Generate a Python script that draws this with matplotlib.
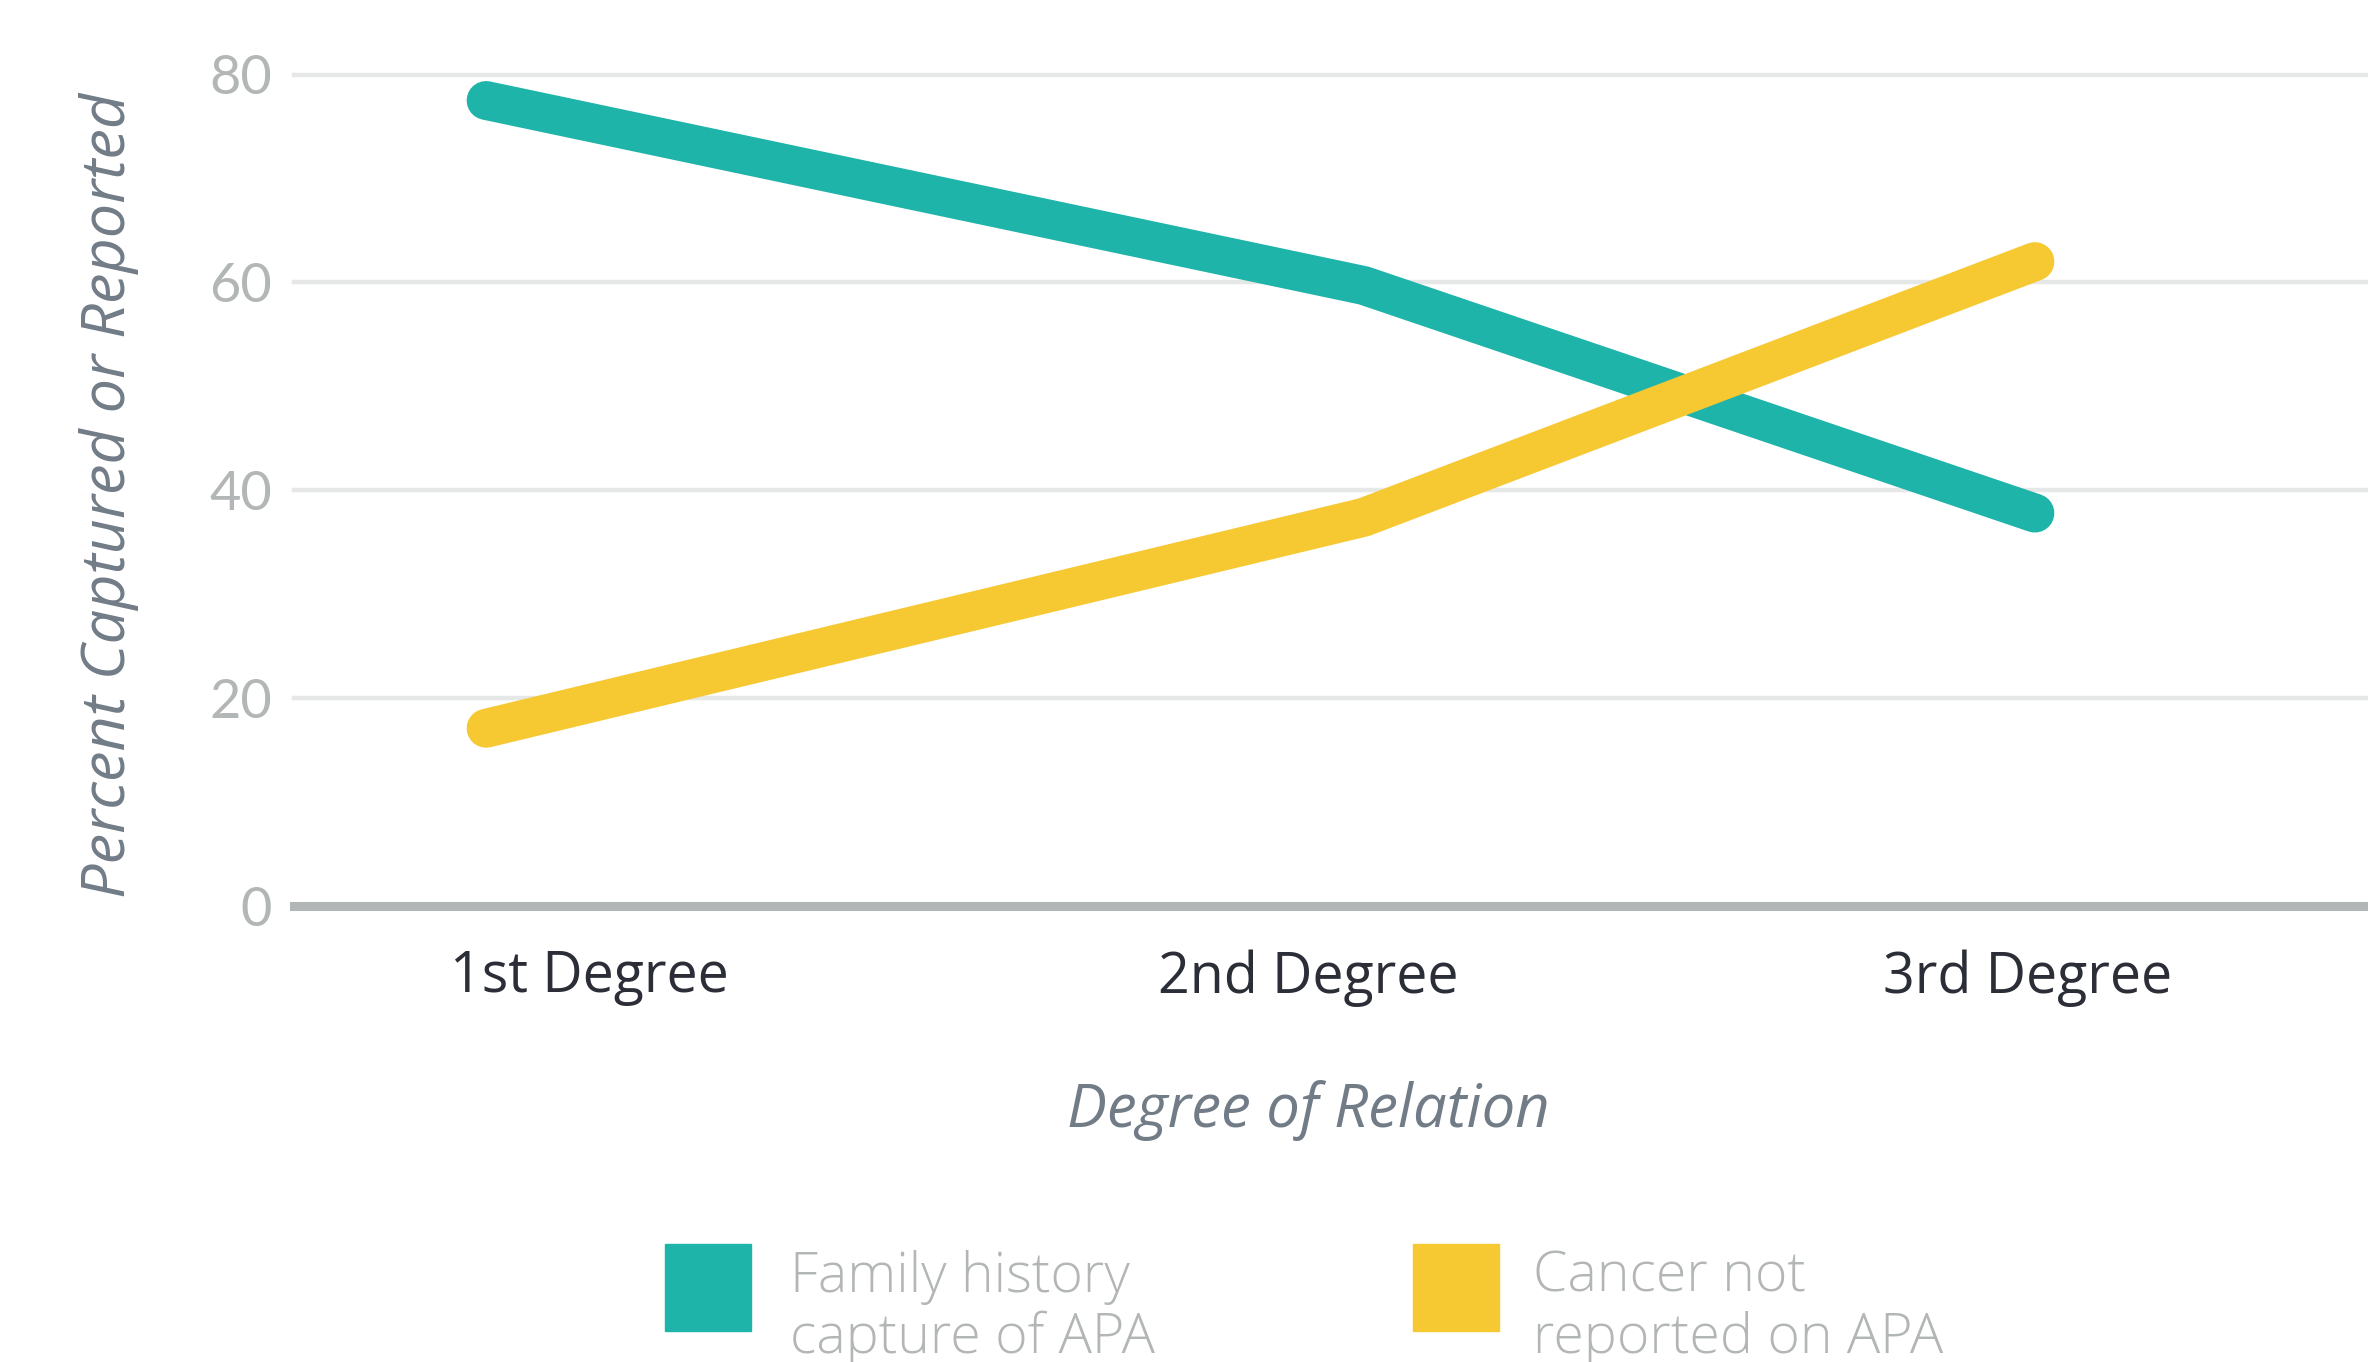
import matplotlib.pyplot as plt
from matplotlib.patches import Rectangle

# data
degrees = ['1st Degree', '2nd Degree', '3rd Degree']
tick_pos = [1, 2, 3]
point_pos = [0.857, 2.077, 3.010]
family_history = [77.5, 59.7, 37.8]
not_reported = [17.1, 37.4, 62.0]
y_ticks = [0, 20, 40, 60, 80]
series_labels = ['Family history\ncapture of APA', 'Cancer not\nreported on APA']

teal = '#1eb4aa'
yellow = '#f6c832'
light_gray = '#b3b6b6'
slate = '#717c87'
dark = '#2b2e37'

W, H = 2368, 1362
fig = plt.figure(figsize=(W / 100, H / 100), dpi=100)
ax = fig.add_axes([294 / W, 1 - 906 / H, 1 - 294 / W, (906 - 74.5) / H])

ax.set_xlim(0.590, 3.473)
ax.set_ylim(0, 80)

for y in y_ticks[1:]:
    ax.axhline(y, color='#e6e7e7', lw=3.2, zorder=1, clip_on=False)
ax.axhline(0, color=light_gray, lw=6.5, zorder=2, clip_on=False)

ax.plot(point_pos, family_history, color=teal, lw=28, solid_capstyle='round',
        solid_joinstyle='bevel', zorder=3, clip_on=False)
ax.plot(point_pos, not_reported, color=yellow, lw=28, solid_capstyle='round',
        solid_joinstyle='bevel', zorder=4, clip_on=False)

for s in ax.spines.values():
    s.set_visible(False)

ax.set_yticks(y_ticks)
ax.set_yticklabels([str(v) for v in y_ticks], fontfamily='Lato',
                   fontsize=39, color=light_gray)
ax.tick_params(axis='y', length=0, pad=16)

ax.set_xticks(tick_pos)
ax.set_xticklabels(degrees, fontfamily='Open Sans', fontsize=40, color=dark)
ax.tick_params(axis='x', length=0, pad=31)

ax.set_xlabel('Degree of Relation', fontfamily='Open Sans', style='italic',
              fontsize=43, color=slate, va='center')
ax.xaxis.set_label_coords(0.489, -0.246)
fig.text(109 / W, 1 - 495 / H, 'Percent Captured or Reported', rotation=90,
         ha='center', va='center', fontfamily='Open Sans', style='italic',
         fontsize=44, color=slate)

# legend drawn by hand
for x0, x_txt, c, lab in [(665, 790, teal, series_labels[0]),
                          (1413, 1533, yellow, series_labels[1])]:
    fig.add_artist(Rectangle((x0 / W, 1 - 1331 / H), 86 / W, 87 / H,
                             transform=fig.transFigure, color=c))
    fig.text(x_txt / W, 1 - 1250 / H, lab, ha='left', va='top',
             fontfamily='Open Sans', fontweight='light', fontsize=40,
             color=light_gray, linespacing=1.14)

fig.savefig('out.png', dpi=100)
